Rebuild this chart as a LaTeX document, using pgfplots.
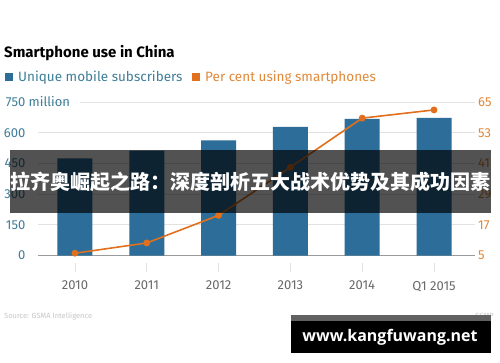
\documentclass[border=0pt]{standalone}
\usepackage{pgfplots}
\pgfplotsset{compat=1.18}
\usepackage{fontspec}
\setmainfont{Fira Sans}
\newfontfamily\cjk{Noto Sans CJK SC}
\newfontfamily\wm{Open Sans}
\definecolor{barblue}{HTML}{2C6E99}
\definecolor{lineorange}{HTML}{E0701E}
\definecolor{leftlab}{HTML}{3F7E98}
\definecolor{rightlab}{HTML}{E0893A}
\definecolor{gridc}{HTML}{E2E2E2}
\definecolor{basec}{HTML}{9A9A9A}
\definecolor{xlab}{HTML}{6A6A6A}
\begin{document}
\begin{tikzpicture}
\useasboundingbox (0,0) rectangle (500pt,-362pt);
\fill[white] (0,0) rectangle (500pt,-362pt);
% title and legend
\node[anchor=base west, inner sep=0] at (4pt,-57pt) {\fontsize{15}{15}\selectfont\bfseries Smartphone use in China};
\fill[barblue] (5pt,-73pt) rectangle (13pt,-81pt);
\node[anchor=base west, inner sep=0, text=leftlab] at (18pt,-81.5pt) {\fontsize{13.5}{13.5}\selectfont Unique mobile subscribers};
\fill[lineorange] (192pt,-73pt) rectangle (200pt,-81pt);
\node[anchor=base west, inner sep=0, text=rightlab] at (205pt,-81.5pt) {\fontsize{13.5}{13.5}\selectfont Per cent using smartphones};
\begin{axis}[
  at={(38pt,-255.5pt)}, anchor=south west,
  scale only axis, width=437pt, height=153.5pt,
  xmin=-0.515, xmax=5.571, ymin=0, ymax=750,
  axis x line*=bottom, axis y line*=left,
  y axis line style={draw=none},
  x axis line style={draw=basec, line width=0.8pt, -},
  xtick={0,1,2,3,4,5},
  xticklabels={2010,2011,2012,2013,2014,Q1 2015},
  tick align=outside, major tick length=9pt,
  xtick style={draw=gridc, line width=0.8pt, yshift=-7.5pt},
  xticklabel style={text=xlab, font=\fontsize{13}{13}\selectfont, yshift=-13pt},
  ytick={0,150,300,450,600,750},
  yticklabels={0,150,300,450,600,{750\rlap{ million\textcolor{white}{\rule[-2pt]{10pt}{8pt}}}}},
  ytick style={draw=none},
  yticklabel style={anchor=east, inner xsep=0pt, xshift=-3.5pt, text=leftlab, font=\fontsize{13}{13}\selectfont},
  ymajorgrids, grid style={draw=gridc, line width=0.7pt},
  clip=false,
]
\addplot[ybar, bar width=35pt, fill=barblue, draw=none] coordinates {
 (0,475) (1,512) (2,563) (3,629) (4,668) (5,673)};
\end{axis}
\begin{axis}[
  at={(38pt,-255.5pt)}, anchor=south west,
  scale only axis, width=437pt, height=153.5pt,
  xmin=-0.515, xmax=5.571, ymin=5, ymax=65,
  axis x line=none, axis y line*=right,
  y axis line style={draw=none},
  ytick={5,17,29,41,53,65},
  ytick style={draw=none},
  /pgf/number format/assume math mode=true,
  yticklabel style={anchor=west, inner xsep=0pt, xshift=3pt, text=rightlab, font=\fontsize{13}{13}\selectfont},
  clip=false,
]
\addplot[lineorange, line width=1.6pt, mark=*, mark size=2.6pt, mark options={fill=lineorange}] coordinates {
 (0,5.9) (1,9.9) (2,20.7) (3,39.5) (4,58.7) (5,61.9)};
\end{axis}
% source
\node[anchor=base west, inner sep=0, text=gray!45] at (4pt,-318pt) {\fontsize{7.5}{7.5}\selectfont Source: GSMA Intelligence};
\node[anchor=base east, inner sep=0, text=gray!45] at (494pt,-318pt) {\fontsize{7.5}{7.5}\selectfont SCMP};
% overlay banner
\fill[black, opacity=0.68] (10pt,-150pt) rectangle (491pt,-213pt);
\node[text=white, inner sep=0] at (250.5pt,-182pt) {\cjk\bfseries\fontsize{20}{20}\selectfont 拉齐奥崛起之路：深度剖析五大战术优势及其成功因素};
% watermark
\fill[black] (291pt,-315pt) rectangle (491pt,-353pt);
\fill[black!62] (291pt,-315pt) rectangle (491pt,-321pt);
\node[text=white, inner sep=0] at (390pt,-337pt) {\wm\bfseries\fontsize{16}{16}\selectfont www.kangfuwang.net};
\end{tikzpicture}
\end{document}
